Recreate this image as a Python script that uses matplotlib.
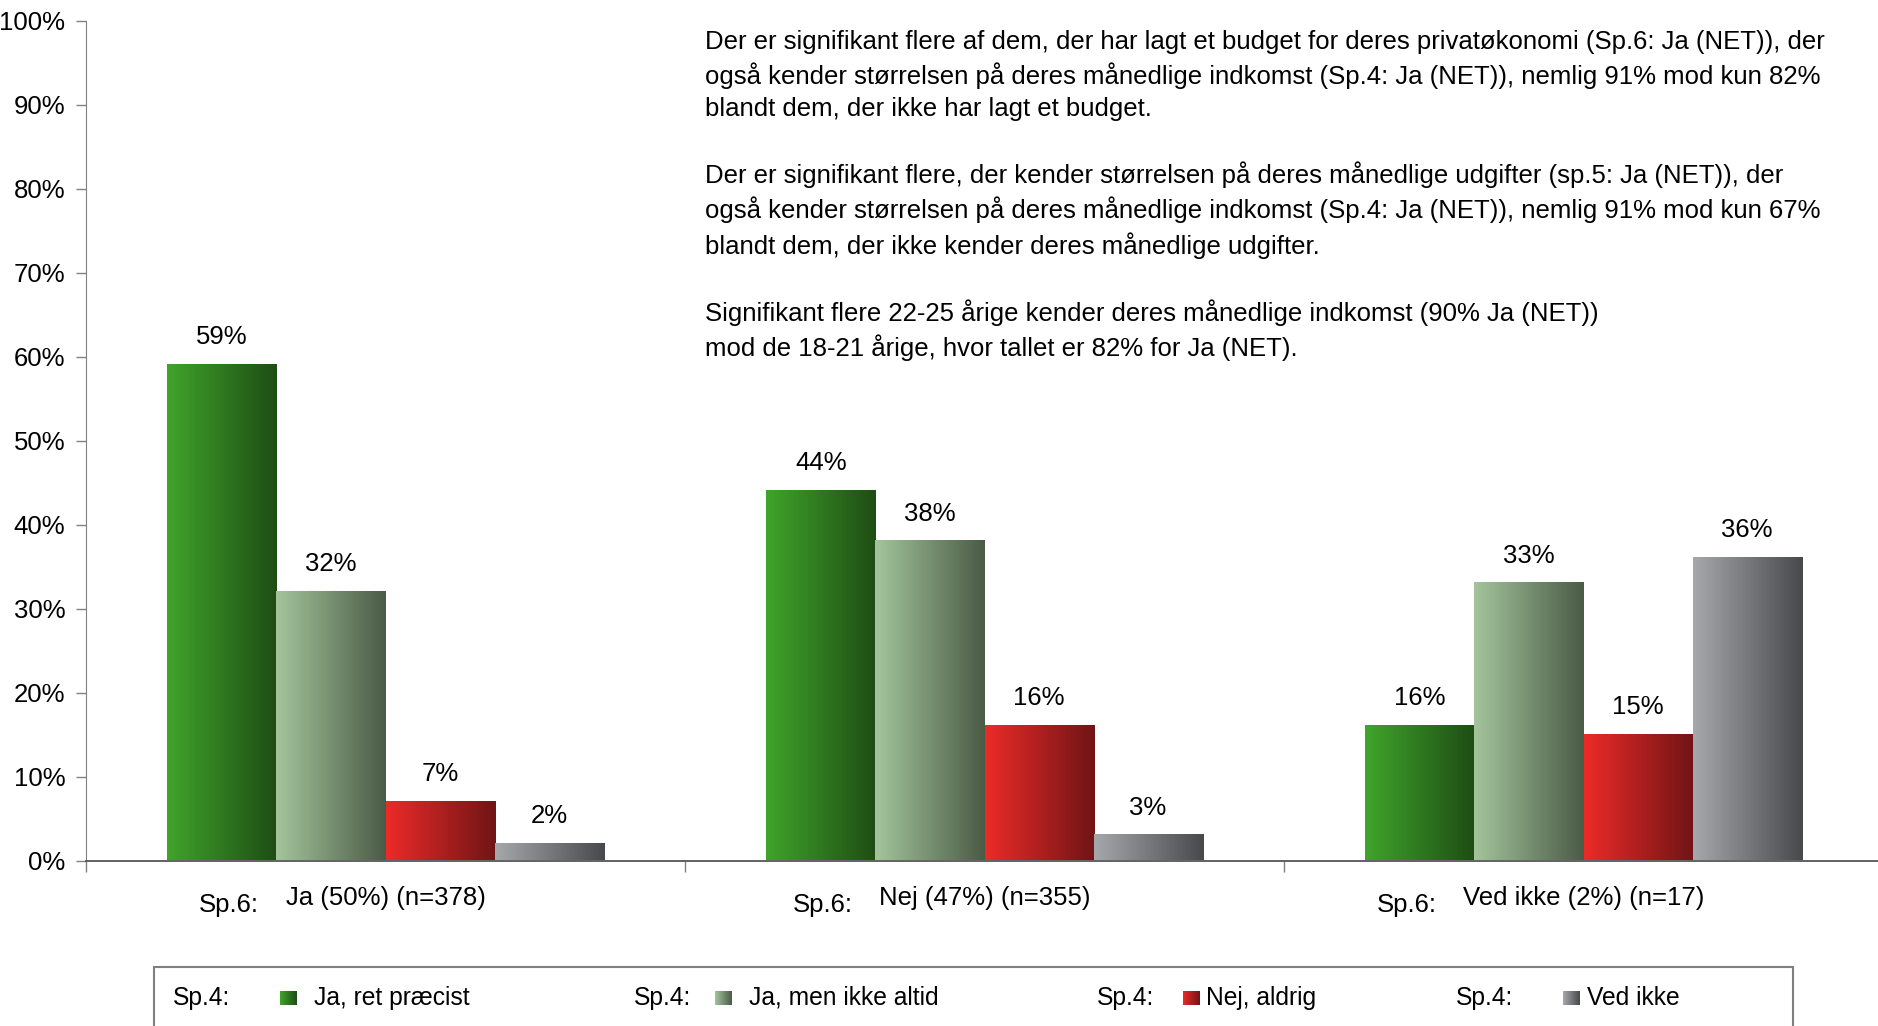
import matplotlib
matplotlib.use("Agg")
import matplotlib.pyplot as plt
import numpy as np
from matplotlib.colors import LinearSegmentedColormap
from matplotlib.patches import Rectangle

plt.rcParams['font.family'] = ['Liberation Sans', 'DejaVu Sans']

# data
categories = ['Ja (50%) (n=378)', 'Nej (47%) (n=355)', 'Ved ikke (2%) (n=17)']
series_names = ['Ja, ret præcist', 'Ja, men ikke altid', 'Nej, aldrig', 'Ved ikke']
ja_ret_praecist = [59, 44, 16]
ja_men_ikke_altid = [32, 38, 33]
nej_aldrig = [7, 16, 15]
ved_ikke = [2, 3, 36]
series_values = [ja_ret_praecist, ja_men_ikke_altid, nej_aldrig, ved_ikke]

# left -> right gradient colours for each series
gradients = [('#40a42b', '#1e4d14'),
             ('#a4c59c', '#4a5b46'),
             ('#ec2b28', '#701416'),
             ('#a7a8ac', '#48494b')]

note = ("Der er signifikant flere af dem, der har lagt et budget for deres privatøkonomi (Sp.6: Ja (NET)), der\n"
        "også kender størrelsen på deres månedlige indkomst (Sp.4: Ja (NET)), nemlig 91% mod kun 82%\n"
        "blandt dem, der ikke har lagt et budget.\n"
        "\n"
        "Der er signifikant flere, der kender størrelsen på deres månedlige udgifter (sp.5: Ja (NET)), der\n"
        "også kender størrelsen på deres månedlige indkomst (Sp.4: Ja (NET)), nemlig 91% mod kun 67%\n"
        "blandt dem, der ikke kender deres månedlige udgifter.\n"
        "\n"
        "Signifikant flere 22-25 årige kender deres månedlige indkomst (90% Ja (NET))\n"
        "mod de 18-21 årige, hvor tallet er 82% for Ja (NET).")

W, H = 1878, 1026
fig = plt.figure(figsize=(W / 100, H / 100), dpi=100)
ax = fig.add_axes([86 / W, (H - 860.5) / H, 1797 / W, 839.8 / H])

fs = 18.5
bar_width = 0.182
index = np.arange(len(categories))
grad = np.linspace(0, 1, 256).reshape(1, -1)

for k, (vals, (c0, c1)) in enumerate(zip(series_values, gradients)):
    cmap = LinearSegmentedColormap.from_list('g%d' % k, [c0, c1])
    rects = ax.bar(index + (k - 1.5) * bar_width, vals, bar_width,
                   color='none', edgecolor='none')
    for r, v in zip(rects, vals):
        x0, w, h = r.get_x(), r.get_width(), r.get_height()
        ax.imshow(grad, extent=[x0, x0 + w, 0, h], aspect='auto',
                  cmap=cmap, zorder=2, interpolation='bilinear')
        ax.annotate('%d%%' % v, xy=(x0 + w / 2, h), xytext=(0, 20),
                    textcoords='offset points', ha='center', va='center',
                    fontsize=fs)

ax.set_xlim(-0.5, 2.5)
ax.set_ylim(0, 100)
ax.set_yticks(np.arange(0, 101, 10))
ax.set_yticklabels(['%d%%' % t for t in range(0, 101, 10)], fontsize=fs)
ax.set_xticks([-0.5, 0.5, 1.5])
ax.set_xticklabels([])
ax.tick_params(axis='y', direction='out', length=7, width=1, color='#808080', pad=8)
ax.tick_params(axis='x', direction='out', length=8, width=1, color='#808080')
for s in ['top', 'right']:
    ax.spines[s].set_visible(False)
ax.spines['left'].set_color('#808080')
ax.spines['bottom'].set_color('#555555')
ax.spines['bottom'].set_linewidth(1.3)

# category labels with "Sp.6:" prefix
for i, cat in enumerate(categories):
    t = ax.annotate(cat, xy=(i, 0), xycoords=('data', 'axes fraction'),
                    xytext=(0, -27), textcoords='offset points',
                    ha='center', va='center', fontsize=fs)
    ax.annotate('Sp.6:', xy=(0, 0.5), xycoords=t, xytext=(-19, -5),
                textcoords='offset points', ha='right', va='center',
                fontsize=fs)

# note text
fig.text(705 / W, 1 - 30 / H, note, ha='left', va='top', fontsize=18.5,
         linespacing=1.4)

# legend box
fig.patches.append(Rectangle((154 / W, -0.05), (1793 - 154) / W, 0.05 + 59 / H,
                             transform=fig.transFigure, facecolor='none',
                             edgecolor='#808080', linewidth=1.5))
prefix_x = [173, 634, 1097, 1456]
square_x = [280, 715, 1183, 1563]
label_x = [314, 749, 1206, 1587]
ly = (H - 998) / H
for k, name in enumerate(series_names):
    fig.text(prefix_x[k] / W, ly, 'Sp.4:', ha='left', va='center', fontsize=17.7)
    fig.text(label_x[k] / W, ly, name, ha='left', va='center', fontsize=17.7)
    sq = fig.add_axes([square_x[k] / W, (H - 1005) / H, 17 / W, 14 / H])
    cmap = LinearSegmentedColormap.from_list('l%d' % k, list(gradients[k]))
    sq.imshow(grad, aspect='auto', cmap=cmap)
    sq.axis('off')

fig.savefig('out.png', dpi=100)
